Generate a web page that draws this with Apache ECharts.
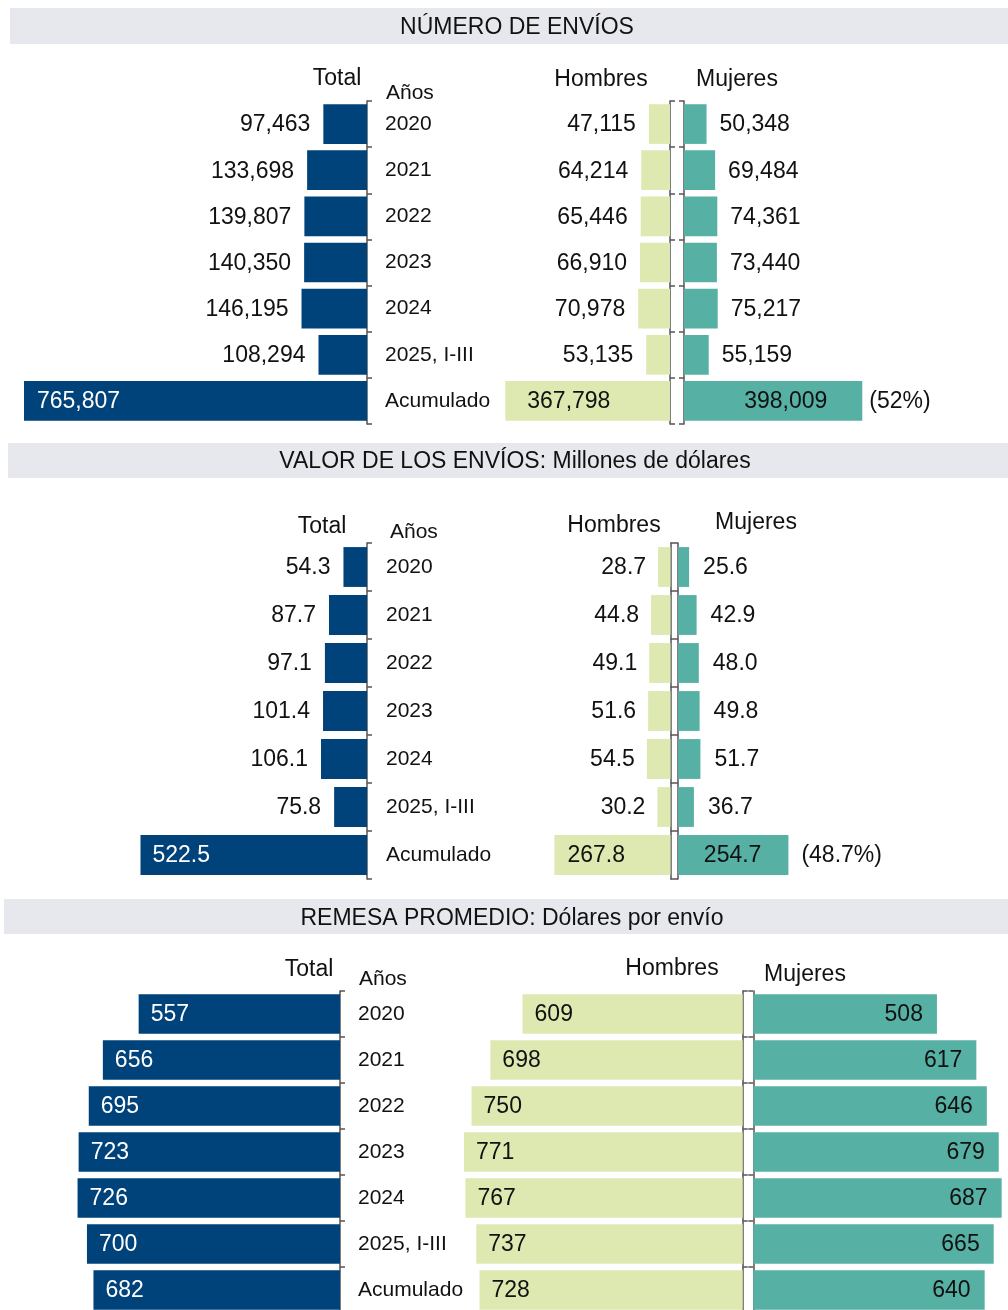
<!DOCTYPE html>
<html lang="es">
<head>
<meta charset="UTF-8">
<title>Envíos por sexo</title>
<script src="https://cdn.jsdelivr.net/npm/echarts@6/dist/echarts.min.js"></script>
<style>
  * { margin: 0; padding: 0 }
  html, body { width: 1008px; height: 1310px; background: #fff; }
</style>
</head>
<body>
<div id="main" style="width:1008px;height:1310px"></div>
<script>
var years = ['2020', '2021', '2022', '2023', '2024', '2025, I-III', 'Acumulado'];

// número de envíos
var envTotal = [97463, 133698, 139807, 140350, 146195, 108294, 765807];
var envHombres = [47115, 64214, 65446, 66910, 70978, 53135, 367798];
var envMujeres = [50348, 69484, 74361, 73440, 75217, 55159, 398009];
var envMujeresPct = '(52%)';

// valor de los envíos, millones de dólares
var valTotal = [54.3, 87.7, 97.1, 101.4, 106.1, 75.8, 522.5];
var valHombres = [28.7, 44.8, 49.1, 51.6, 54.5, 30.2, 267.8];
var valMujeres = [25.6, 42.9, 48.0, 49.8, 51.7, 36.7, 254.7];
var valMujeresPct = '(48.7%)';

// remesa promedio, dólares por envío
var remTotal = [557, 656, 695, 723, 726, 700, 682];
var remHombres = [609, 698, 750, 771, 767, 737, 728];
var remMujeres = [508, 617, 646, 679, 687, 665, 640];

var FONT = '"Liberation Sans", Arial, sans-serif';
var C_TOTAL = '#00427a', C_HOM = '#dde9b1', C_MUJ = '#56b0a3', C_AXIS = '#555', C_TXT = '#111';
var VAL_SIZE = 23, YEAR_SIZE = 21;

function miles(v) { return String(v).replace(/\B(?=(\d{3})+(?!\d))/g, ','); }
function dec1(v) { return v.toFixed(1); }
function ent(v) { return String(v); }

// each panel: [pos, distance, color] for normal rows and for the Acumulado row
var panels = [
  {
    top: 101, height: 323, k: 343 / 765807, gap: '14%', margin: 18,
    xTotal: 367, xHom: 670, xMuj: 684,
    total: envTotal, hom: envHombres, muj: envMujeres, fmt: miles, pct: envMujeresPct, pctDist: 7,
    lbl: {
      total: [['left', 13, C_TXT], ['insideLeft', 13, '#fff']],
      hom: [['left', 13, C_TXT], ['insideLeft', 22, C_TXT]],
      muj: [['right', 13, C_TXT], ['insideRight', 35, C_TXT]]
    }
  },
  {
    top: 543, height: 336, k: 0.4335, gap: '17%', margin: 19,
    xTotal: 367, xHom: 670.5, xMuj: 678,
    total: valTotal, hom: valHombres, muj: valMujeres, fmt: dec1, pct: valMujeresPct, pctDist: 13,
    lbl: {
      total: [['left', 13, C_TXT], ['insideLeft', 12, '#fff']],
      hom: [['left', 12, C_TXT], ['insideLeft', 13, C_TXT]],
      muj: [['right', 14, C_TXT], ['insideRight', 27, C_TXT]]
    }
  },
  {
    top: 991, height: 322, k: 0.3615, gap: '14%', margin: 18,
    xTotal: 340, xHom: 742.7, xMuj: 753.3,
    total: remTotal, hom: remHombres, muj: remMujeres, fmt: ent, pct: null,
    lbl: {
      total: [['insideLeft', 12, '#fff'], ['insideLeft', 12, '#fff']],
      hom: [['insideLeft', 12, C_TXT], ['insideLeft', 12, C_TXT]],
      muj: [['insideRight', 14, C_TXT], ['insideRight', 14, C_TXT]]
    }
  }
];

var grids = [], xAxes = [], yAxes = [], series = [];

function addPart(p, data, left, width, inverse, side, showYears, lbl, color) {
  var gi = grids.length;
  var mx = Math.max.apply(null, data);
  grids.push({ left: left, top: p.top, width: width, height: p.height, containLabel: false, outerBoundsMode: 'none' });
  xAxes.push({ type: 'value', gridIndex: gi, min: 0, max: mx, inverse: inverse, show: false });
  yAxes.push({
    type: 'category', gridIndex: gi, data: years, inverse: true, position: side,
    axisLine: { show: true, lineStyle: { color: C_AXIS, width: 1.5 } },
    axisTick: { show: true, length: 5, lineStyle: { color: C_AXIS, width: 1.5 } },
    axisLabel: { show: showYears, margin: p.margin, color: C_TXT, fontSize: YEAR_SIZE, fontFamily: FONT },
    splitLine: { show: false }
  });
  var last = data.length - 1;
  series.push({
    type: 'bar', xAxisIndex: gi, yAxisIndex: gi, barCategoryGap: p.gap, barGap: '-100%',
    itemStyle: { color: color }, silent: true,
    data: data.map(function (v, i) {
      var l = lbl[i === last ? 1 : 0];
      return {
        value: v,
        label: {
          show: true, position: l[0], distance: l[1], color: l[2], offset: [0, 1],
          fontSize: VAL_SIZE, fontFamily: FONT, formatter: p.fmt(v)
        }
      };
    })
  });
  return gi;
}

panels.forEach(function (p) {
  var wT = p.k * Math.max.apply(null, p.total);
  var wH = p.k * Math.max.apply(null, p.hom);
  var wM = p.k * Math.max.apply(null, p.muj);
  addPart(p, p.total, p.xTotal - wT, wT, true, 'right', true, p.lbl.total, C_TOTAL);
  addPart(p, p.hom, p.xHom - wH, wH, true, 'right', false, p.lbl.hom, C_HOM);
  var gm = addPart(p, p.muj, p.xMuj, wM, false, 'left', false, p.lbl.muj, C_MUJ);
  if (p.pct) {
    var last = p.muj.length - 1;
    series.push({
      type: 'bar', xAxisIndex: gm, yAxisIndex: gm, barCategoryGap: p.gap, barGap: '-100%',
      itemStyle: { color: 'rgba(0,0,0,0)' }, silent: true,
      data: p.muj.map(function (v, i) {
        return {
          value: v,
          label: {
            show: i === last, position: 'right', distance: p.pctDist, color: C_TXT, offset: [0, 1],
            fontSize: VAL_SIZE, fontFamily: FONT, formatter: p.pct
          }
        };
      })
    });
  }
});

function txt(s, x, y, align, size) {
  return {
    type: 'text', silent: true,
    style: {
      text: s, x: x, y: y + 2, fill: C_TXT, font: (size || VAL_SIZE) + 'px ' + FONT,
      textAlign: align, align: align, textVerticalAlign: 'middle', verticalAlign: 'middle'
    }
  };
}
function band(x, y, h) {
  return { type: 'rect', silent: true, z: -1, shape: { x: x, y: y, width: 1008 - x, height: h }, style: { fill: '#e7e8ed' } };
}

var graphic = [
  band(10, 8, 36), txt('NÚMERO DE ENVÍOS', 517, 26, 'center'),
  txt('Total', 337, 77, 'center'), txt('Años', 386, 91, 'left', YEAR_SIZE),
  txt('Hombres', 601, 78, 'center'), txt('Mujeres', 737, 78, 'center'),

  band(8, 443, 35), txt('VALOR DE LOS ENVÍOS: Millones de dólares', 515, 460, 'center'),
  txt('Total', 322, 525, 'center'), txt('Años', 390, 530, 'left', YEAR_SIZE),
  txt('Hombres', 614, 524, 'center'), txt('Mujeres', 756, 521, 'center'),

  band(4, 899, 35), txt('REMESA PROMEDIO: Dólares por envío', 512, 917, 'center'),
  txt('Total', 309, 968, 'center'), txt('Años', 359, 977, 'left', YEAR_SIZE),
  txt('Hombres', 672, 967, 'center'), txt('Mujeres', 805, 973, 'center')
];

var chart = echarts.init(document.getElementById('main'), null, { renderer: 'canvas' });
chart.setOption({
  animation: false,
  backgroundColor: '#fff',
  textStyle: { fontFamily: FONT },
  grid: grids,
  xAxis: xAxes,
  yAxis: yAxes,
  series: series,
  graphic: graphic
});
</script>
</body>
</html>
